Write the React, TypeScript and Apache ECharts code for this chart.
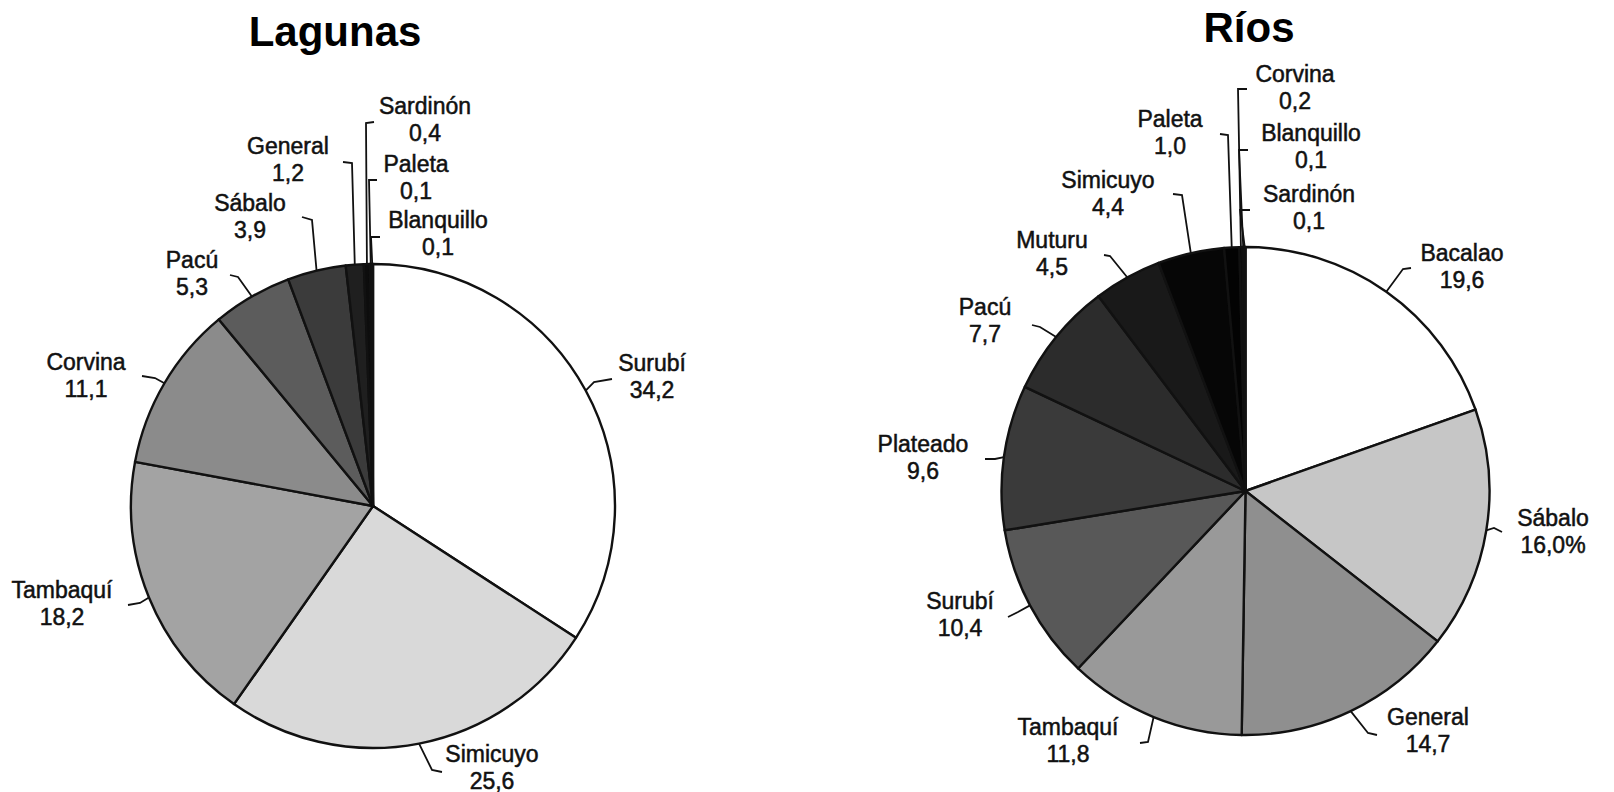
import React, { useEffect, useRef } from "react";
import * as echarts from "echarts";

// ---- Data ----
const lagunasNames = ["Surubí", "Simicuyo", "Tambaquí", "Corvina", "Pacú", "Sábalo", "General", "Sardinón", "Paleta", "Blanquillo"];
const lagunasValues = [34.2, 25.6, 18.2, 11.1, 5.3, 3.9, 1.2, 0.4, 0.1, 0.1];

const riosNames = ["Bacalao", "Sábalo", "General", "Tambaquí", "Surubí", "Plateado", "Pacú", "Muturu", "Simicuyo", "Paleta", "Corvina", "Blanquillo", "Sardinón"];
const riosValues = [19.6, 16.0, 14.7, 11.8, 10.4, 9.6, 7.7, 4.5, 4.4, 1.0, 0.2, 0.1, 0.1];
const riosPercentLabel = "Sábalo";

const titles = ["Lagunas", "Ríos"];

// ---- Styles ----
const lagunasColors = ["#ffffff", "#d9d9d9", "#a3a3a3", "#8b8b8b", "#5c5c5c", "#3b3b3b", "#1f1f1f", "#0d0d0d", "#080808", "#050505"];
const riosColors = ["#ffffff", "#c6c6c6", "#8f8f8f", "#999999", "#585858", "#3a3a3a", "#2c2c2c", "#191919", "#060606", "#030303", "#020202", "#020202", "#020202"];

// ---- Layout ----
const lagGeom = { cx: 373, cy: 506, r: 242 };
const riosGeom = { cx: 1245.5, cy: 491, r: 244 };

// label layout: [labelX, labelY, elbowX, elbowY, endX, endY]
const lagunasLabelPos = [
  [652, 376, 594, 382, 612, 379],
  [492, 767, 432, 770, 442, 772],
  [62, 603, 140, 603, 128, 605],
  [86, 375, 155, 378, 142, 376],
  [192, 273, 238, 277, 230, 275],
  [250, 216, 312, 220, 302, 217],
  [288, 159, 352, 163, 343, 162],
  [425, 119, 366, 123, 374, 122],
  [416, 177, 369, 180, 377, 180],
  [438, 233, 371, 237, 380, 237],
];
const riosLabelPos = [
  [1462, 266, 1403, 269, 1411, 268],
  [1553, 531, 1494, 528, 1502, 532],
  [1428, 730, 1368, 733, 1377, 735],
  [1068, 740, 1148, 742, 1140, 743],
  [960, 614, 1018, 612, 1008, 617],
  [923, 457, 995, 459, 985, 459],
  [985, 320, 1040, 327, 1032, 325],
  [1052, 253, 1110, 256, 1104, 255],
  [1108, 193, 1182, 195, 1173, 194],
  [1170, 132, 1228, 135, 1220, 134],
  [1295, 87, 1238, 89, 1247, 89],
  [1311, 146, 1239, 150, 1248, 150],
  [1309, 207, 1240, 210, 1250, 210],
];

const fmt = (v: number) => v.toFixed(1).replace(".", ",");

function makeLayout(values: number[], geom: { cx: number; cy: number; r: number }, pos: number[][]) {
  const total = values.reduce((a, b) => a + b, 0);
  return (params: any) => {
    const i = params.dataIndex;
    let before = 0;
    for (let k = 0; k < i; k++) before += values[k];
    const mid = ((before + values[i] / 2) / total) * Math.PI * 2;
    const ax = geom.cx + geom.r * Math.sin(mid);
    const ay = geom.cy - geom.r * Math.cos(mid);
    const p = pos[i];
    return {
      x: p[0],
      y: p[1],
      align: "center",
      verticalAlign: "middle",
      labelLinePoints: [
        [ax, ay],
        [p[2], p[3]],
        [p[4], p[5]],
      ],
    };
  };
}

const labelStyle = {
  show: true,
  position: "outside",
  fontFamily: "Liberation Sans, Arial, sans-serif",
  fontSize: 23,
  lineHeight: 27,
  color: "#111",
  textBorderColor: "#111",
  textBorderWidth: 0.5,
  align: "center",
  overflow: "none",
};

function makeSeries(
  names: string[],
  values: number[],
  colors: string[],
  geom: { cx: number; cy: number; r: number },
  pos: number[][],
  pctName: string | null
) {
  return {
    type: "pie",
    center: [geom.cx, geom.cy],
    radius: [0, geom.r],
    startAngle: 90,
    clockwise: true,
    avoidLabelOverlap: false,
    silent: true,
    emphasis: { disabled: true },
    itemStyle: { borderColor: "#111", borderWidth: 2.4 },
    label: {
      ...labelStyle,
      formatter: (p: any) => `${p.name}\n${fmt(p.value)}${pctName && p.name === pctName ? "%" : ""}`,
    },
    labelLine: { show: true, length: 10, length2: 10, lineStyle: { color: "#111", width: 1.8 } },
    labelLayout: makeLayout(values, geom, pos),
    data: names.map((n, i) => ({ name: n, value: values[i], itemStyle: { color: colors[i] } })),
  };
}

export default function App() {
  const ref = useRef<HTMLDivElement>(null);
  useEffect(() => {
    if (!ref.current) return;
    const chart = echarts.init(ref.current, null, { renderer: "svg" });
    chart.setOption({
      animation: false,
      backgroundColor: "#ffffff",
      graphic: [
        {
          type: "text",
          x: 335,
          y: 31,
          style: {
            text: titles[0],
            font: 'bold 42px "Liberation Sans", Arial, sans-serif',
            fill: "#000",
            textAlign: "center",
            textVerticalAlign: "middle",
          },
        },
        {
          type: "text",
          x: 1249,
          y: 27,
          style: {
            text: titles[1],
            font: 'bold 42px "Liberation Sans", Arial, sans-serif',
            fill: "#000",
            textAlign: "center",
            textVerticalAlign: "middle",
          },
        },
      ],
      series: [
        makeSeries(lagunasNames, lagunasValues, lagunasColors, lagGeom, lagunasLabelPos, null),
        makeSeries(riosNames, riosValues, riosColors, riosGeom, riosLabelPos, riosPercentLabel),
      ],
    });
    return () => chart.dispose();
  }, []);
  return (
    <div
      ref={ref}
      style={{ position: "absolute", left: 0, top: 0, width: "1614px", height: "792px" }}
    />
  );
}
